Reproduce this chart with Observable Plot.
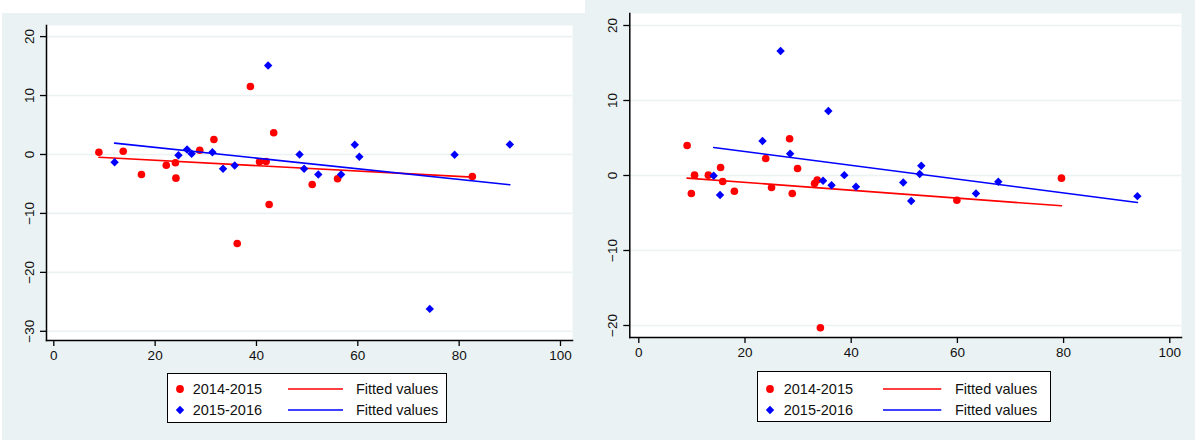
<!DOCTYPE html>
<html><head><meta charset="utf-8">
<script src="https://cdn.jsdelivr.net/npm/d3@7"></script>
<script src="https://cdn.jsdelivr.net/npm/@observablehq/plot@0.6"></script>
<style>
body{margin:0;background:#fff;width:1195px;height:440px;position:relative;overflow:hidden;font-family:"Liberation Sans",Arial,sans-serif;}
.panel{position:absolute;background:#eaf2f3;}
.panel svg{position:absolute;left:0;top:0;}
.legend{position:absolute;background:#fff;border:1.5px solid #000;box-sizing:border-box;}
.legend .t{position:absolute;font-size:14.5px;color:#111;line-height:1;transform:translateY(-50%);white-space:nowrap;}
.legend svg{position:absolute;overflow:visible;}
</style></head><body>
<div id="p1" class="panel" style="left:2px;top:13px;width:583px;height:427px"></div>
<div id="p2" class="panel" style="left:585px;top:0;width:610px;height:440px"></div>
<script>
// ---------- data ----------
const seriesNames = ["2014-2015", "2015-2016"];
const fitLabel = "Fitted values";
const xTicks = [0, 20, 40, 60, 80, 100];
const leftYTicks = [-30, -20, -10, 0, 10, 20];
const rightYTicks = [-20, -10, 0, 10, 20];

// Left panel
const L_red_x = [8.9,13.7,17.3,22.2,24.0,24.1,28.8,31.6,36.2,38.8,40.6,41.9,42.5,43.4,51.0,56.0,82.6];
const L_red_y = [0.39,0.56,-3.39,-1.82,-1.41,-4.02,0.73,2.54,-15.1,11.54,-1.24,-1.19,-8.48,3.68,-5.09,-4.12,-3.73];
const L_blue_x = [12.0,24.6,26.3,27.2,31.3,33.4,35.7,42.3,48.5,49.4,52.2,56.7,59.4,60.3,74.2,79.1,90.0];
const L_blue_y = [-1.31,-0.12,0.85,0.12,0.39,-2.43,-1.87,15.1,0.0,-2.43,-3.39,-3.39,1.65,-0.39,-26.2,-0.05,1.70];
const L_fitred_x = [8.9, 82.6];
const L_fitred_y = [-0.46, -3.85];
const L_fitblue_x = [12.0, 90.0];
const L_fitblue_y = [1.92, -5.14];

// Right panel
const R_red_x = [9.1,9.9,10.5,13.1,15.4,15.8,18.0,23.9,25.0,28.4,28.9,29.9,33.1,33.6,34.2,59.9,79.6];
const R_red_y = [4.0,-2.4,0.05,0.05,1.07,-0.8,-2.1,2.27,-1.6,4.9,-2.4,0.93,-1.07,-0.6,-20.3,-3.3,-0.35];
const R_blue_x = [14.1,15.3,23.3,26.7,28.5,34.7,35.7,36.3,38.7,40.9,49.8,51.3,52.9,53.2,63.5,67.7,93.9];
const R_blue_y = [-0.04,-2.6,4.6,16.6,2.9,-0.7,8.6,-1.3,0.05,-1.5,-0.93,-3.4,0.2,1.3,-2.4,-0.84,-2.75];
const R_fitred_x = [9.1, 79.6];
const R_fitred_y = [-0.35, -4.04];
const R_fitblue_x = [14.1, 93.9];
const R_fitblue_y = [3.73, -3.6];

const RED = "#ff0000", BLUE = "#0000ff", GRID = "#eaf2f3";
const zip = (xs, ys) => xs.map((x, i) => ({x, y: ys[i]}));

function makePlot(cfg) {
  return Plot.plot({
    width: cfg.width, height: cfg.height,
    marginLeft: cfg.ml, marginTop: cfg.mt, marginRight: cfg.mr, marginBottom: cfg.mb,
    x: {domain: [0, 100], range: cfg.xRange, label: null},
    y: {domain: cfg.yDomain, range: cfg.yRange, label: null},
    style: {background: "transparent", fontFamily: '"Liberation Sans", Arial, sans-serif', fontSize: "13.5px", color: "#111", overflow: "visible"},
    marks: [
      Plot.frame({fill: "white", stroke: null}),
      Plot.gridY(cfg.yTicks, {stroke: GRID, strokeOpacity: 1, strokeWidth: 1.6}),
      Plot.frame({anchor: "left", stroke: "#000", strokeWidth: 1.5}),
      Plot.frame({anchor: "bottom", stroke: "#000", strokeWidth: 1.5}),
      Plot.axisX(xTicks, {tickSize: 6, tickPadding: 4, stroke: "#000", strokeWidth: 1.3, fill: "#111", label: null}),
      Plot.axisY(cfg.yTicks, {tickSize: 6, tickPadding: 6.5, tickRotate: -90, stroke: "#000", strokeWidth: 1.3, fill: "#111", label: null}),
      Plot.dot(zip(cfg.rx, cfg.ry), {x: "x", y: "y", r: 3.8, fill: RED, stroke: null, symbol: "circle"}),
      Plot.line(zip(cfg.frx, cfg.fry), {x: "x", y: "y", stroke: RED, strokeWidth: 1.6}),
      Plot.dot(zip(cfg.bx, cfg.by), {x: "x", y: "y", r: 3.8, fill: BLUE, stroke: null, symbol: "diamond2"}),
      Plot.line(zip(cfg.fbx, cfg.fby), {x: "x", y: "y", stroke: BLUE, strokeWidth: 1.6})
    ]
  });
}

function markerSvg(kind, color, cx, cy) {
  const s = document.createElementNS("http://www.w3.org/2000/svg", "svg");
  s.setAttribute("width", 12); s.setAttribute("height", 12);
  s.style.left = (cx - 6) + "px"; s.style.top = (cy - 6) + "px";
  if (kind === "circle") {
    s.innerHTML = `<circle cx="6" cy="6" r="3.9" fill="${color}"/>`;
  } else if (kind === "diamond") {
    s.innerHTML = `<path d="M6,1.8L10.2,6L6,10.2L1.8,6Z" fill="${color}"/>`;
  }
  return s;
}
function lineSvg(color, x0, x1, cy) {
  const s = document.createElementNS("http://www.w3.org/2000/svg", "svg");
  s.setAttribute("width", x1 - x0); s.setAttribute("height", 4);
  s.style.left = x0 + "px"; s.style.top = (cy - 2) + "px";
  s.innerHTML = `<line x1="0" x2="${x1 - x0}" y1="2" y2="2" stroke="${color}" stroke-width="1.6"/>`;
  return s;
}
function makeLegend(parent, L) {
  const box = document.createElement("div");
  box.className = "legend";
  Object.assign(box.style, {left: L.left + "px", top: L.top + "px", width: L.w + "px", height: L.h + "px"});
  const rows = [[RED, "circle"], [BLUE, "diamond"]];
  rows.forEach(([color, kind], i) => {
    const cy = L.rows[i];
    box.appendChild(markerSvg(kind, color, L.mx, cy));
    const t = document.createElement("div"); t.className = "t";
    t.textContent = seriesNames[i]; t.style.left = L.tx + "px"; t.style.top = cy + "px";
    box.appendChild(t);
    box.appendChild(lineSvg(color, L.lx0, L.lx1, cy));
    const f = document.createElement("div"); f.className = "t";
    f.textContent = fitLabel; f.style.left = L.fx + "px"; f.style.top = cy + "px";
    box.appendChild(f);
  });
  parent.appendChild(box);
}

const p1 = document.getElementById("p1");
p1.appendChild(makePlot({
  width: 583, height: 427, ml: 44, mt: 12, mr: 13, mb: 100,
  xRange: [51.3, 558], yDomain: [-30, 20], yRange: [317.8, 23.1], yTicks: leftYTicks,
  rx: L_red_x, ry: L_red_y, bx: L_blue_x, by: L_blue_y,
  frx: L_fitred_x, fry: L_fitred_y, fbx: L_fitblue_x, fby: L_fitblue_y
}));
makeLegend(p1, {left: 164.7, top: 359.7, w: 280.6, h: 50, rows: [15.6, 36.6], mx: 12.3, tx: 25, lx0: 120, lx1: 175, fx: 188.3});

const p2 = document.getElementById("p2");
p2.appendChild(makePlot({
  width: 610, height: 440, ml: 44.3, mt: 13, mr: 14, mb: 103,
  xRange: [53.3, 584.3], yDomain: [-20, 20], yRange: [325, 25], yTicks: rightYTicks,
  rx: R_red_x, ry: R_red_y, bx: R_blue_x, by: R_blue_y,
  frx: R_fitred_x, fry: R_fitred_y, fbx: R_fitblue_x, fby: R_fitblue_y
}));
makeLegend(p2, {left: 172.3, top: 371, w: 293.7, h: 50.7, rows: [16.7, 37.7], mx: 12, tx: 25.4, lx0: 124.4, lx1: 182.7, fx: 196.7});
</script></body></html>
